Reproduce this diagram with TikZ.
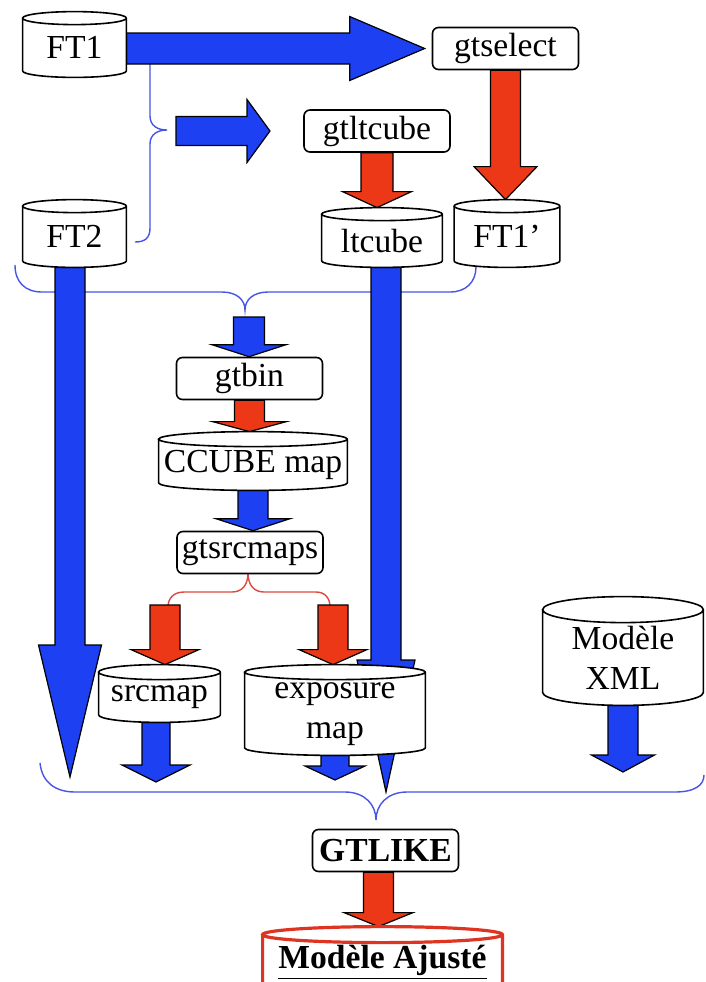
\documentclass[tikz,border=0pt]{standalone}
\usepackage{fontspec}
\setmainfont{Liberation Serif}
\usepackage{tikz}
\usetikzlibrary{calc}
\definecolor{arrblue}{RGB}{28,64,242}
\definecolor{arrred}{RGB}{236,56,22}
\definecolor{braceblue}{RGB}{72,84,230}
\definecolor{bracered}{RGB}{222,72,62}
\definecolor{ajred}{RGB}{222,52,34}
\pgfdeclarelayer{bg}
\pgfdeclarelayer{arr}
\pgfdeclarelayer{cyl}
\pgfsetlayers{bg,arr,cyl,main}
\tikzstyle{proc}=[draw, fill=white, rounded corners=3pt, line width=0.8pt, minimum width=73pt, minimum height=21pt, inner sep=1pt]
\tikzstyle{db}=[inner sep=1pt, align=center]
\tikzstyle{dbline}=[draw, fill=white, line width=0.8pt]
\tikzstyle{bluearr}=[draw, fill=arrblue, line width=0.6pt]
\tikzstyle{redarr}=[draw, fill=arrred, line width=0.6pt]
\tikzstyle{bluebrace}=[draw=braceblue, line width=0.7pt]
\tikzstyle{redbrace}=[draw=bracered, line width=0.7pt]
% fat arrows: style, from, to, half shaft, half head, head length
\newcommand{\fatdown}[6]{%
  \path[#1] let \p1=(#2), \p2=(#3) in
    (\x1-#4,\y1) -- (\x1+#4,\y1) -- (\x1+#4,\y2+#6) -- (\x1+#5,\y2+#6)
    -- (\x1,\y2) -- (\x1-#5,\y2+#6) -- (\x1-#4,\y2+#6) -- cycle;}
\newcommand{\fatright}[6]{%
  \path[#1] let \p1=(#2), \p2=(#3) in
    (\x1,\y2-#4) -- (\x1,\y2+#4) -- (\x2-#6,\y2+#4) -- (\x2-#6,\y2+#5)
    -- (\x2,\y2) -- (\x2-#6,\y2-#5) -- (\x2-#6,\y2-#4) -- cycle;}
% cylinder outline round a db node: name, y radius
\newcommand{\drawdb}[3][]{%
  \path[dbline,#1] let \p1=(#2.north west), \p2=(#2.south east), \n1={(\x2-\x1)/2} in
    (\x1,\y1) -- (\x1,\y2+#3) arc[start angle=180, end angle=360, x radius={\n1*1pt}, y radius=#3]
    -- (\x2,\y1) arc[start angle=0, end angle=360, x radius={\n1*1pt}, y radius=#3];}

\begin{document}
\begin{tikzpicture}[x=0.5pt, y=-0.5pt, font=\fontsize{16.8}{20}\selectfont]
    \useasboundingbox (0,0) rectangle (706,982);

    % data files
    \node [db, minimum width=51.5pt, minimum height=29.25pt] (FT1) at (74.5,47.75) {FT1};
    \node [db, minimum width=51.5pt, minimum height=30.25pt] (FT2) at (74.5,236.75) {FT2};
    \node [db, minimum width=60pt, minimum height=26.25pt] (ltcube) at (382,240.75) {ltcube};
    \node [db, minimum width=52.5pt, minimum height=30.25pt] (FT1p) at (507,236.75) {FT1'};
    \node [db, minimum width=94pt, minimum height=25.25pt] (CCUBE) at (253,464.75) {CCUBE map};
    \node [db, minimum width=60.5pt, minimum height=24.75pt] (srcmap) at (159.5,697.25) {srcmap};
    \node [db, minimum width=90pt, minimum height=41.25pt] (expo) at (335,713.75) {exposure\\map};
    \node [db, minimum width=80pt, minimum height=47.5pt] (XML) at (623,657.5) {Modèle\\XML};
    \node [db, minimum width=119.5pt, minimum height=27.5pt] (Ajuste) at (382.5,962.5) {\underline{\textbf{Modèle Ajusté}}};

    % tools
    \node [proc] (gtselect) at (505.5,48.5) {gtselect};
    \node [proc] (gtltcube) at (377,131) {gtltcube};
    \node [proc] (gtbin) at (249.5,378.5) {gtbin};
    \node [proc] (gtsrcmaps) at (250,552.5) {gtsrcmaps};
    \node [proc] (GTLIKE) at (385.5,850.5) {\textbf{GTLIKE}};

    % free ends
    \coordinate (ftpair) at (176,131);
    \coordinate (ltin) at (270,131);
    \coordinate (binin) at (249,317);
    \coordinate (srcin) at (165,605);
    \coordinate (expin) at (333,605);
    \coordinate (ft2end) at (70,777);
    \coordinate (ltend) at (386,792);
    \coordinate (srcend) at (156,782);
    \coordinate (expend) at (334,780);
    \coordinate (xmlend) at (625,772);

    \begin{pgfonlayer}{bg}
    \path[bluebrace] (150,63) -- (150,116) .. controls (150,126) and (158,130) .. (167,130)
        .. controls (158,130) and (150,134) .. (150,144) -- (150,228) .. controls (150,238) and (145,242) .. (135,242);
    \path[bluebrace] (15,265) .. controls (15,282) and (25,292) .. (42,292) -- (222,292)
        .. controls (237,292) and (245,300) .. (245,310) .. controls (245,300) and (253,292) .. (268,292)
        -- (450,292) .. controls (466,292) and (476,282) .. (476,267);
    \path[redbrace] (168,607) .. controls (168,598) and (174,592) .. (184,592) -- (232,592)
        .. controls (242,592) and (248,585) .. (248,573) .. controls (248,585) and (254,592) .. (264,592)
        -- (316,592) .. controls (325,592) and (330,598) .. (330,607);
    \path[bluebrace] (40,763) .. controls (42,782) and (55,792) .. (75,792) -- (345,792)
        .. controls (365,792) and (376,805) .. (376,820) .. controls (376,805) and (387,792) .. (407,792)
        -- (675,792) .. controls (695,792) and (704,785) .. (704,775);
    \end{pgfonlayer}

    \begin{pgfonlayer}{arr}
    \fatright{bluearr}{FT1.east}{[xshift=-3.5pt]gtselect.west}{7.75pt}{16pt}{37.5pt}
    \fatright{bluearr}{ftpair}{ltin}{7.25pt}{15.75pt}{11.5pt}
    \fatdown{bluearr}{[xshift=-2.25pt]FT2.south}{ft2end}{7.5pt}{15.75pt}{66pt}
    \fatdown{bluearr}{[xshift=2pt]ltcube.south}{ltend}{7.5pt}{14.5pt}{66pt}
    \fatdown{redarr}{gtselect.south}{[yshift=3.25pt]FT1p.north}{7.5pt}{15.75pt}{16.5pt}
    \fatdown{redarr}{gtltcube.south}{[yshift=3.25pt]ltcube.north}{8pt}{17.25pt}{8pt}
    \fatdown{bluearr}{binin}{gtbin.north}{7.75pt}{18.5pt}{6pt}
    \fatdown{redarr}{gtbin.south}{[yshift=3.75pt]CCUBE.north}{7.5pt}{18.5pt}{5pt}
    \fatdown{bluearr}{CCUBE.south}{gtsrcmaps.north}{7.5pt}{18.5pt}{6pt}
    \fatdown{redarr}{srcin}{[yshift=3.75pt]srcmap.north}{7.5pt}{17pt}{7.5pt}
    \fatdown{redarr}{expin}{[yshift=3.75pt]expo.north}{7.5pt}{17pt}{7.5pt}
    \fatdown{bluearr}{[xshift=-1.75pt]srcmap.south}{srcend}{7pt}{17pt}{8.5pt}
    \fatdown{bluearr}{expo.south}{expend}{7pt}{15pt}{7pt}
    \fatdown{bluearr}{XML.south}{xmlend}{7.5pt}{15.75pt}{8.5pt}
    \fatdown{redarr}{[xshift=-3.5pt]GTLIKE.south}{[yshift=4pt]Ajuste.north}{7.5pt}{17.25pt}{7pt}
    \end{pgfonlayer}

    \begin{pgfonlayer}{cyl}
    \drawdb{FT1}{3.25pt}
    \drawdb{FT2}{3.25pt}
    \drawdb{ltcube}{3.25pt}
    \drawdb{FT1p}{3.25pt}
    \drawdb{CCUBE}{3.75pt}
    \drawdb{srcmap}{3.75pt}
    \drawdb{expo}{3.75pt}
    \drawdb{XML}{6.5pt}
    \clip (0,0) rectangle (706,982);
    \drawdb[draw=ajred, line width=1.6pt]{Ajuste}{4pt}
    \end{pgfonlayer}
\end{tikzpicture}
\end{document}
